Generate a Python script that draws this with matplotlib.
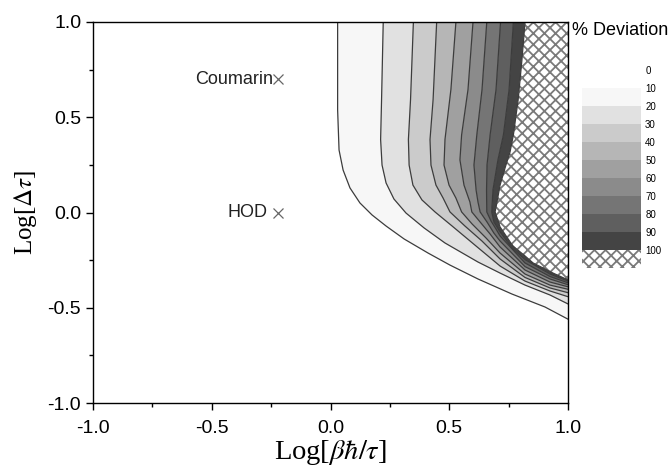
import matplotlib
matplotlib.use("Agg")
import matplotlib.pyplot as plt
from matplotlib.ticker import MultipleLocator, FormatStrFormatter

plt.rcParams['font.family'] = ['Liberation Sans', 'DejaVu Sans']
plt.rcParams['mathtext.fontset'] = 'stix'
plt.rcParams['hatch.linewidth'] = 1.3

# iso-deviation lines, x = Log[beta hbar/tau], y = Log[delta tau]
levels = [10, 20, 30, 40, 50, 60, 70, 80, 90, 100]

x10 = [0.030, 0.030, 0.036, 0.053, 0.082, 0.124, 0.175, 0.234, 0.310, 0.411, 0.503, 0.621, 0.764, 0.903, 1.0]
y10 = [1.0, 0.538, 0.328, 0.223, 0.129, 0.050, -0.013, -0.071, -0.139, -0.213, -0.276, -0.349, -0.428, -0.496, -0.560]

x20 = [0.222, 0.215, 0.211, 0.217, 0.234, 0.267, 0.318, 0.394, 0.482, 0.621, 0.714, 0.819, 0.924, 1.0]
y20 = [1.0, 0.593, 0.383, 0.249, 0.155, 0.071, -0.003, -0.081, -0.160, -0.260, -0.318, -0.381, -0.433, -0.480]

x30 = [0.349, 0.337, 0.328, 0.331, 0.347, 0.385, 0.440, 0.512, 0.608, 0.714, 0.819, 0.924, 1.0]
y30 = [1.0, 0.593, 0.383, 0.249, 0.144, 0.066, 0.003, -0.071, -0.171, -0.281, -0.360, -0.412, -0.442]

x40 = [0.447, 0.432, 0.419, 0.423, 0.444, 0.474, 0.503, 0.566, 0.638, 0.714, 0.819, 0.924, 1.0]
y40 = [1.0, 0.593, 0.383, 0.249, 0.144, 0.076, 0.003, -0.071, -0.150, -0.244, -0.341, -0.396, -0.421]

x50 = [0.528, 0.507, 0.482, 0.478, 0.499, 0.528, 0.552, 0.596, 0.655, 0.714, 0.819, 0.924, 1.0]
y50 = [1.0, 0.646, 0.383, 0.249, 0.144, 0.076, 0.003, -0.060, -0.134, -0.213, -0.323, -0.381, -0.403]

x60 = [0.600, 0.579, 0.552, 0.545, 0.562, 0.587, 0.595, 0.630, 0.672, 0.714, 0.819, 0.924, 1.0]
y60 = [1.0, 0.646, 0.407, 0.276, 0.144, 0.055, 0.003, -0.050, -0.113, -0.181, -0.302, -0.365, -0.390]

x70 = [0.658, 0.638, 0.616, 0.604, 0.613, 0.621, 0.630, 0.659, 0.688, 0.714, 0.819, 0.924, 1.0]
y70 = [1.0, 0.646, 0.407, 0.249, 0.118, 0.055, 0.003, -0.050, -0.108, -0.150, -0.284, -0.349, -0.379]

x80 = [0.716, 0.697, 0.672, 0.659, 0.657, 0.658, 0.676, 0.697, 0.714, 0.819, 0.924, 1.0]
y80 = [1.0, 0.646, 0.407, 0.249, 0.118, 0.003, -0.045, -0.087, -0.123, -0.265, -0.336, -0.369]

x90 = [0.770, 0.752, 0.728, 0.705, 0.684, 0.679, 0.688, 0.714, 0.764, 0.819, 0.924, 1.0]
y90 = [1.0, 0.646, 0.407, 0.276, 0.118, 0.003, -0.050, -0.102, -0.186, -0.247, -0.323, -0.360]

x100 = [0.819, 0.806, 0.790, 0.770, 0.756, 0.735, 0.714, 0.701, 0.693, 0.714, 0.768, 0.819, 0.853, 0.937, 1.0]
y100 = [1.0, 0.801, 0.591, 0.407, 0.318, 0.234, 0.144, 0.055, 0.003, -0.076, -0.176, -0.228, -0.265, -0.318, -0.354]

sample_names = ["Coumarin", "HOD"]
sample_x = [-0.22, -0.22]
sample_y = [0.70, 0.0]
sample_offset = [-4, -8]

band_colors = ['#f7f7f7', '#e1e1e1', '#cbcbcb', '#b6b6b6', '#a0a0a0',
               '#8b8b8b', '#757575', '#5f5f5f', '#444444']
hatch_color = '#7a7a7a'
line_color = '#3c3c3c'

contours = [(x10, y10), (x20, y20), (x30, y30), (x40, y40), (x50, y50),
            (x60, y60), (x70, y70), (x80, y80), (x90, y90), (x100, y100)]

fig = plt.figure(figsize=(6.7, 4.72), dpi=100)
ax = fig.add_axes([93 / 670, 1 - 403 / 472, 475 / 670, 381 / 472])

# gray bands between neighbouring iso-lines
for i in range(len(contours) - 1):
    xa, ya = contours[i]
    xb, yb = contours[i + 1]
    ax.fill(xa + xb[::-1], ya + yb[::-1], color=band_colors[i], lw=0, zorder=1)

# beyond 100 % -> cross hatched
xl, yl = contours[-1]
ax.fill(xl + [1.0], yl + [1.0], facecolor='white', edgecolor=hatch_color,
        hatch='xxx', lw=0, zorder=1)

for xs, ys in contours:
    ax.plot(xs, ys, color=line_color, lw=0.9, zorder=2)

ax.plot(sample_x, sample_y, 'x', color='#666666', ms=7, mew=0.9, zorder=3)
for name, sx, sy, off in zip(sample_names, sample_x, sample_y, sample_offset):
    ax.annotate(name, (sx, sy), xytext=(off, 0), textcoords='offset points',
                ha='right', va='center', fontsize=13, color='#222222')

ax.set_xlim(-1, 1)
ax.set_ylim(-1, 1)
ax.xaxis.set_major_locator(MultipleLocator(0.5))
ax.yaxis.set_major_locator(MultipleLocator(0.5))
ax.xaxis.set_minor_locator(MultipleLocator(0.25))
ax.yaxis.set_minor_locator(MultipleLocator(0.25))
ax.xaxis.set_major_formatter(FormatStrFormatter('%.1f'))
ax.yaxis.set_major_formatter(FormatStrFormatter('%.1f'))
ax.tick_params(which='major', direction='out', length=5, width=1, labelsize=14)
ax.tick_params(which='minor', direction='out', length=3, width=1)
ax.tick_params(axis='x', which='major', pad=7)
for s in ax.spines.values():
    s.set_linewidth(1.0)

ax.set_xlabel(r'Log[$\beta\hbar/\tau$]', fontsize=20.5, family='Liberation Serif', labelpad=1)
ax.set_ylabel(r'Log[$\Delta\tau$]', fontsize=18, family='Liberation Serif', labelpad=6)

# legend bar
cax = fig.add_axes([582 / 670, 1 - 268 / 472, 59 / 670, 198 / 472])
cax.set_xlim(0, 1)
cax.set_ylim(110, 0)
for i in range(len(levels) - 1):
    cax.barh(levels[i] + 5, 1, height=10, left=0, color=band_colors[i], lw=0)
cax.barh(105, 1, height=10, left=0, facecolor='white', edgecolor=hatch_color,
         hatch='xxx', lw=0)
cax.set_xticks([])
cax.set_yticks([0] + levels)
cax.yaxis.tick_right()
cax.tick_params(axis='y', length=0, labelsize=7, pad=3)
for s in cax.spines.values():
    s.set_visible(False)

fig.text(572 / 670, 1 - 35 / 472, '% Deviation', ha='left', va='baseline', fontsize=13)

fig.savefig('out.png', dpi=100)
